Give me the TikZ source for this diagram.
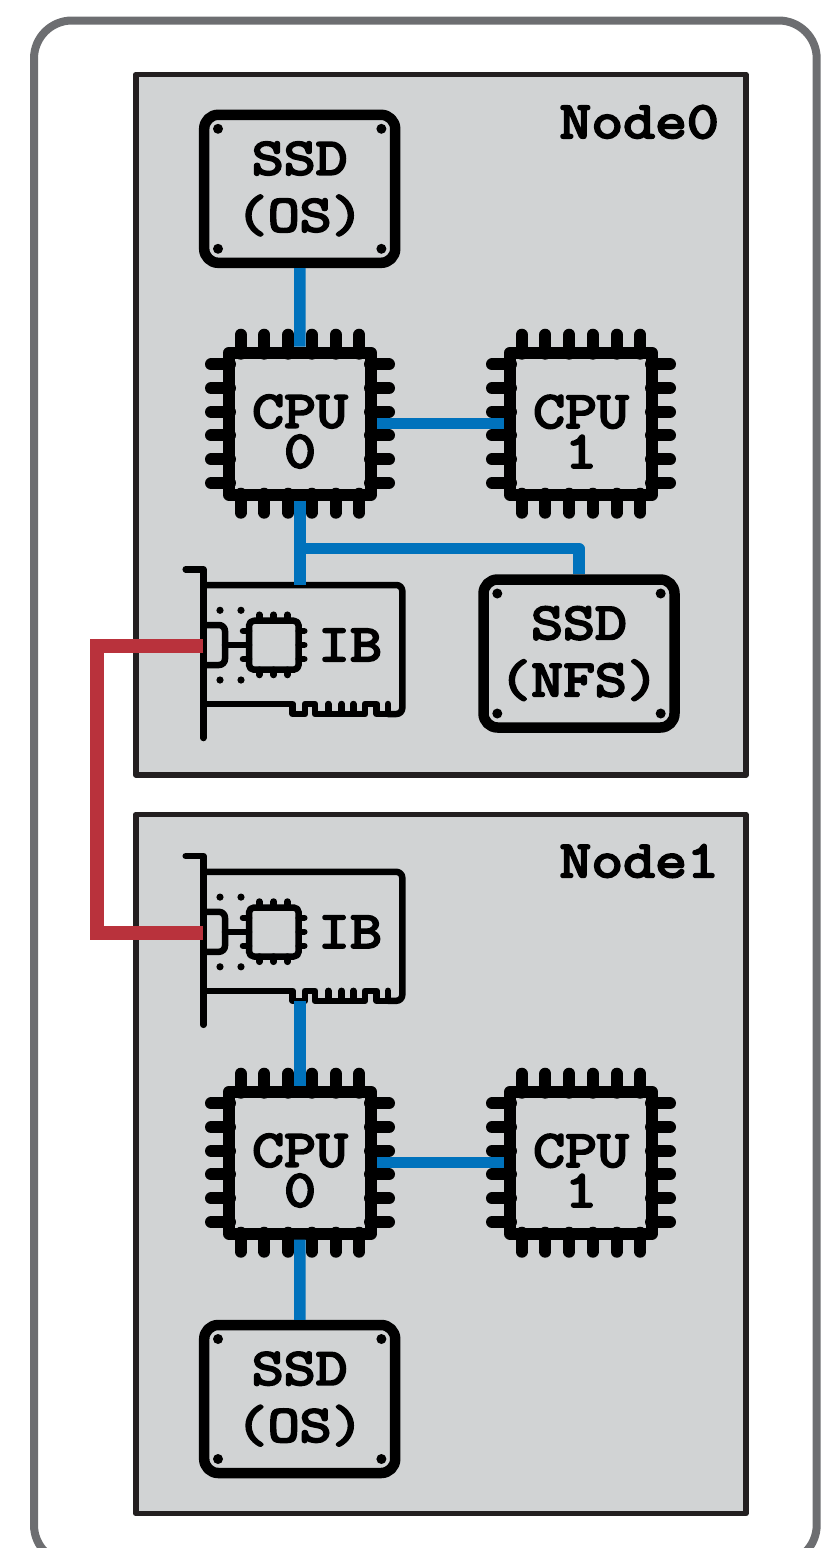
\documentclass[tikz,border=0pt]{standalone}
\usepackage{fontspec}
\newfontfamily\hostfont[FakeBold=4.5,FakeStretch=1.19]{Latin Modern Mono}
\definecolor{framegray}{HTML}{6D6E71}
\definecolor{panelgray}{HTML}{D1D3D4}
\definecolor{paneledge}{HTML}{231F20}
\definecolor{linkblue}{HTML}{0072BC}
\definecolor{linkred}{HTML}{B9323C}
\newcommand{\cputext}[1]{\rule{0pt}{48pt}CPU\\#1}
\tikzset{
panelbox/.style={draw=paneledge,fill=panelgray,line width=5.5pt,minimum width=610.2pt,inner sep=0pt},
nodelabel/.style={anchor=east,inner sep=0pt,font=\fontsize{52}{52}\selectfont\hostfont},
cpubox/.style={draw,line width=12pt,minimum size=142pt,inner sep=0pt,align=center,font=\fontsize{52}{40}\selectfont\hostfont},
ssdbox/.style={draw,line width=10.5pt,rounded corners=14pt,minimum width=191pt,minimum height=148pt,inner sep=0pt,align=center,font=\fontsize{52}{57}\selectfont\hostfont},
bluelink/.style={draw=linkblue,line width=11.5pt,line cap=butt},
redlink/.style={draw=linkred,line width=14pt,line cap=butt,line join=miter},
cpupins/.pic={
\draw[line width=12pt] 
\foreach \p in {-59.3,-35.6,-11.7,11.7,35.7,59.3} {
(\p,-89) -- (\p,-70) (\p,89) -- (\p,70)
(-89,\p) -- (-70,\p) (89,\p) -- (70,\p)
};
},
ssdscrews/.pic={
\fill 
(-81.7,-60) circle(5pt)
(81.7,-60) circle(5pt)
(-81.7,60) circle(5pt)
(81.7,60) circle(5pt)
;
},
ibcard/.pic={
\draw[line width=6.5pt] (-17.6,-76.4)--(0,-76.4)--(0,92.3);
\draw[line width=6.5pt,rounded corners=6pt] (0,-60.7)--(199,-60.7)--(199,68.3)--(184.7,68.3);
\draw[line width=6.5pt] (0,58.3)-|(89.4,68.3)-|(101.7,58.3)-|(111.7,68.3)--(125,68.3)--(125,58.3)--(125,68.3)--(138.4,68.3)--(138.4,58.3)--(138.4,68.3)--(150,68.3)--(150,58.3)--(150,68.3)-|(161.7,58.3)-|(173.4,68.3)--(184.7,68.3)--(184.7,58.3);
\draw[line width=6.5pt,rounded corners=6pt] (0,-20.7)--(21.7,-20.7)--(21.7,19.3)--(0,19.3);
\draw[line width=6.5pt] (21.7,-0.7)--(45.7,-0.7);
\draw[line width=6.5pt,rounded corners=5pt] (45.7,-25) rectangle (95.4,24);
\draw[line width=6.5pt]
\foreach \p in {56,70.4,84} {(\p,-25)--(\p,-31) (\p,24)--(\p,29.3)}
\foreach \p in {-14.7,13.3} {(45.7,\p)--(39.7,\p)}
\foreach \p in {-14.7,-0.7,13.3} {(95.4,\p)--(101,\p)};
\fill 
(16.7,-35.4) circle(3.6pt)
(37.7,-35.4) circle(3.6pt)
(16.7,34.3) circle(3.6pt)
(37.7,34.3) circle(3.6pt)
;
\node[inner sep=0pt,font=\fontsize{52}{52}\selectfont\hostfont] (text) at (146.7,-0.7) {IB};
\coordinate (port) at (0,0);
\coordinate (top) at (96.7,-60.7);
\coordinate (bottom) at (96.7,68.3);
}
}
\begin{document}
\begin{tikzpicture}[x=1pt,y=-1pt,line join=round,line cap=round]
\clip (0,0) rectangle (821,1548);
\draw[framegray,line width=8pt,rounded corners=38pt] (34,20.5) rectangle (816.7,1563);
% node 0
\node[panelbox,minimum height=700.5pt] (node0) at (440.9,424.75) {};
\node[nodelabel] (label0) at (719,122) {Node0};
\node[ssdbox] (n0ssdos) at (299.7,188.8) {SSD\\(OS)};
\node[cpubox] (n0cpu0) at (300,423.7) {\cputext{0}};
\node[cpubox] (n0cpu1) at (581,423.7) {\cputext{1}};
\node[ssdbox] (n0ssdnfs) at (579,653.5) {SSD\\(NFS)};
\path (n0ssdos) pic{ssdscrews} (n0ssdnfs) pic{ssdscrews} (n0cpu0) pic{cpupins} (n0cpu1) pic{cpupins};
\pic (n0ib) at (203.3,645.7) {ibcard};
% node 1
\node[panelbox,minimum height=699pt] (node1) at (440.9,1164) {};
\node[nodelabel] (label1) at (719,861) {Node1};
\pic (n1ib) at (203.3,932.5) {ibcard};
\node[cpubox] (n1cpu0) at (300,1162.7) {\cputext{0}};
\node[cpubox] (n1cpu1) at (581,1162.7) {\cputext{1}};
\node[ssdbox] (n1ssdos) at (299.7,1399) {SSD\\(OS)};
\path (n1ssdos) pic{ssdscrews} (n1cpu0) pic{cpupins} (n1cpu1) pic{cpupins};
% links
\draw[bluelink] (n0ssdos)--(n0cpu0);
\draw[bluelink] (n0cpu0)--(n0cpu1);
\draw[bluelink] (n0cpu0.south)--(n0ibtop);
\draw[bluelink] (n0cpu0.south)--++(0,48)-|(n0ssdnfs.north);
\draw[bluelink] (n1ibbottom)--(n1cpu0.north);
\draw[bluelink] (n1cpu0)--(n1cpu1);
\draw[bluelink] (n1cpu0)--(n1ssdos);
\draw[redlink] (n0ibport)--++(-106.6,0)|-(n1ibport);
\end{tikzpicture}
\end{document}
